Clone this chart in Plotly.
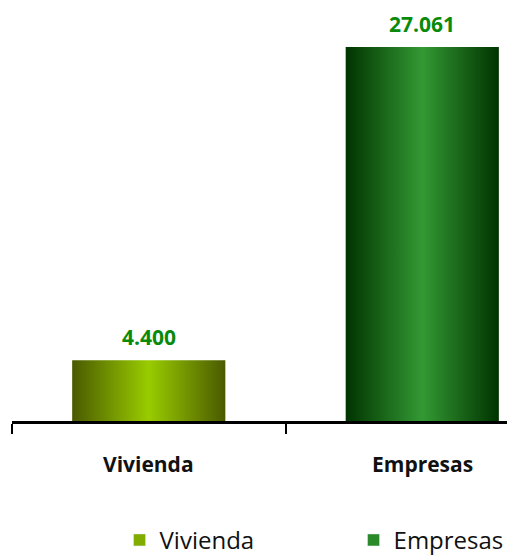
import plotly.graph_objects as go

categories = ["Vivienda", "Empresas"]
values = [4400, 27061]
value_labels = ["4.400", "27.061"]
edge_colors = ["#4a5a00", "#003300"]
mid_colors = ["#99cc00", "#339933"]
legend_colors = ["#80ad00", "#2a8a2a"]

bar_w = 0.56
fig = go.Figure()

for i, (cat, v) in enumerate(zip(categories, values)):
    x0, x1 = i - bar_w / 2, i + bar_w / 2
    fig.add_trace(go.Scatter(
        x=[x0, x1, x1, x0, x0], y=[0, 0, v, v, 0],
        mode="lines", line=dict(width=0), fill="toself",
        fillgradient=dict(type="horizontal",
                          colorscale=[[0, edge_colors[i]], [0.5, mid_colors[i]], [1, edge_colors[i]]]),
        showlegend=False, hoverinfo="skip"))
    fig.add_annotation(x=i, y=v, text="<b>%s</b>" % value_labels[i], showarrow=False,
                       yanchor="middle", yshift=23,
                       font=dict(family="Open Sans", size=21, color="#0a8a0a"))
    fig.add_annotation(x=i, y=0, text="<b>%s</b>" % cat, showarrow=False,
                       yanchor="middle", yshift=-43,
                       font=dict(family="Open Sans", size=21, color="#111111"))
    fig.add_trace(go.Bar(x=[None], y=[None], name=cat, marker=dict(color=legend_colors[i])))

fig.update_layout(
    width=507, height=550,
    margin=dict(l=4, r=0, t=12, b=137, autoexpand=False),
    paper_bgcolor="white", plot_bgcolor="white",
    showlegend=True,
    legend=dict(orientation="h", xref="container", x=0.22, xanchor="left",
                yref="container", y=0.073, yanchor="top",
                font=dict(family="Open Sans", size=24, color="#111111"),
                entrywidth=189, itemwidth=30),
    xaxis=dict(range=[-0.5, 1.339], showgrid=False, zeroline=False,
               showline=True, linecolor="black", linewidth=3,
               tickvals=[-0.5, 0.5, 1.5], ticks="outside", ticklen=10, tickwidth=2,
               tickcolor="black", showticklabels=False, fixedrange=True),
    yaxis=dict(range=[0, 29015], visible=False, fixedrange=True),
)

fig.write_html("out.html")
